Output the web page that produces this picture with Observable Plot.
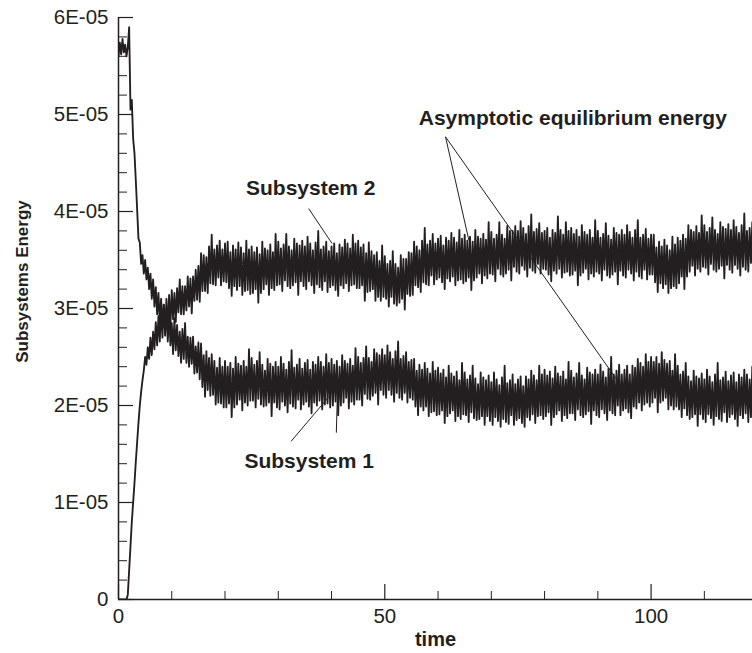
<!DOCTYPE html>
<html>
<head>
<meta charset="utf-8">
<script src="https://cdn.jsdelivr.net/npm/d3@7"></script>
<script src="https://cdn.jsdelivr.net/npm/@observablehq/plot@0.6"></script>
<style>
  body { margin: 0; background: #fff; }
  svg { display: block; }
</style>
</head>
<body>
<div id="chart"></div>
<script>
// Subsystem energies in units of 1E-05, one sample every 0.25 time units from t = 0
// (each row holds 5 time units).
const sampleStep = 0.25;

const subsystem1 = [
  5.6, 5.74, 5.62, 5.78, 5.64, 5.72, 5.6, 5.7, 5.9, 5.05, 5.15, 4.75, 4.6, 4.32, 4.02, 3.72, 3.68, 3.46, 3.55, 3.36,
  3.5, 3.3, 3.42, 3.2, 3.36, 3.1, 3.3, 3.02, 3.22, 2.94, 3.16, 2.86, 3.1, 2.8, 3.04, 2.72, 3.0, 2.66, 2.96, 2.62,
  2.85, 2.53, 2.9, 2.57, 2.83, 2.51, 2.76, 2.44, 2.79, 2.48, 2.85, 2.44, 2.71, 2.4, 2.7, 2.43, 2.71, 2.33, 2.61, 2.34,
  2.65, 2.27, 2.64, 2.19, 2.52, 2.09, 2.56, 2.16, 2.49, 2.1, 2.53, 2.11, 2.46, 2.01, 2.39, 2.03, 2.49, 2.02, 2.4, 1.98,
  2.46, 1.98, 2.4, 2.02, 2.44, 1.88, 2.38, 1.98, 2.5, 2.01, 2.43, 2.06, 2.41, 1.95, 2.46, 2.03, 2.4, 2.0, 2.58, 2.05,
  2.49, 2.05, 2.42, 1.98, 2.46, 2.07, 2.55, 2.01, 2.42, 1.99, 2.36, 2.0, 2.48, 2.03, 2.43, 1.89, 2.4, 2.03, 2.45, 1.98,
  2.4, 1.96, 2.5, 2.04, 2.43, 2.0, 2.37, 1.93, 2.45, 2.02, 2.57, 1.99, 2.39, 1.97, 2.42, 2.06, 2.48, 1.96, 2.38, 2.01,
  2.44, 2.04, 2.47, 1.99, 2.37, 1.92, 2.45, 2.03, 2.42, 2.0, 2.5, 2.05, 2.45, 1.96, 2.4, 2.01, 2.53, 2.02, 2.44, 1.98,
  2.48, 2.0, 2.42, 2.04, 2.46, 1.9, 2.4, 2.0, 2.52, 2.03, 2.46, 2.08, 2.43, 1.97, 2.48, 2.04, 2.41, 2.01, 2.59, 2.06,
  2.5, 2.06, 2.44, 2.0, 2.49, 2.12, 2.61, 2.07, 2.49, 2.06, 2.45, 2.1, 2.58, 2.13, 2.54, 2.01, 2.52, 2.16, 2.58, 2.11,
  2.52, 2.08, 2.62, 2.16, 2.55, 2.11, 2.48, 2.04, 2.56, 2.13, 2.66, 2.08, 2.48, 2.06, 2.51, 2.13, 2.55, 2.03, 2.45, 2.08,
  2.47, 2.06, 2.48, 1.99, 2.36, 1.9, 2.42, 1.99, 2.37, 1.95, 2.44, 1.99, 2.38, 1.89, 2.33, 1.93, 2.45, 1.94, 2.36, 1.9,
  2.39, 1.91, 2.33, 1.95, 2.37, 1.82, 2.29, 1.89, 2.41, 1.92, 2.33, 1.95, 2.3, 1.84, 2.35, 1.89, 2.26, 1.86, 2.44, 1.91,
  2.34, 1.9, 2.27, 1.83, 2.31, 1.93, 2.41, 1.87, 2.28, 1.85, 2.22, 1.86, 2.34, 1.89, 2.29, 1.8, 2.26, 1.89, 2.31, 1.84,
  2.24, 1.8, 2.34, 1.88, 2.27, 1.84, 2.21, 1.78, 2.29, 1.86, 2.41, 1.83, 2.23, 1.81, 2.26, 1.9, 2.32, 1.8, 2.22, 1.85,
  2.27, 1.87, 2.3, 1.82, 2.2, 1.78, 2.3, 1.88, 2.27, 1.85, 2.36, 1.91, 2.31, 1.82, 2.26, 1.89, 2.41, 1.9, 2.32, 1.86,
  2.37, 1.89, 2.31, 1.93, 2.35, 1.8, 2.28, 1.88, 2.4, 1.91, 2.33, 1.95, 2.3, 1.84, 2.35, 1.9, 2.27, 1.87, 2.45, 1.92,
  2.36, 1.92, 2.29, 1.85, 2.33, 1.96, 2.44, 1.9, 2.31, 1.88, 2.27, 1.91, 2.39, 1.94, 2.34, 1.81, 2.32, 1.95, 2.37, 1.9,
  2.32, 1.88, 2.42, 1.96, 2.35, 1.92, 2.29, 1.85, 2.38, 1.95, 2.5, 1.92, 2.32, 1.9, 2.36, 2.0, 2.42, 1.9, 2.32, 1.95,
  2.37, 1.97, 2.41, 1.93, 2.32, 1.87, 2.41, 1.99, 2.39, 1.97, 2.48, 2.03, 2.44, 1.95, 2.4, 2.01, 2.53, 2.03, 2.45, 1.99,
  2.5, 2.03, 2.45, 2.08, 2.5, 1.93, 2.43, 2.03, 2.55, 2.05, 2.47, 2.08, 2.43, 1.96, 2.46, 2.0, 2.36, 1.96, 2.53, 1.99,
  2.41, 1.96, 2.32, 1.88, 2.35, 1.97, 2.44, 1.9, 2.3, 1.86, 2.25, 1.88, 2.36, 1.91, 2.3, 1.79, 2.28, 1.91, 2.33, 1.86,
  2.27, 1.83, 2.37, 1.91, 2.3, 1.87, 2.24, 1.8, 2.32, 1.89, 2.44, 1.86, 2.26, 1.84, 2.29, 1.93, 2.35, 1.83, 2.25, 1.88,
  2.31, 1.91, 2.34, 1.86, 2.24, 1.79, 2.32, 1.9, 2.29, 1.87, 2.37, 1.92, 2.32, 1.83, 2.27, 1.88, 2.4
];

const subsystem2 = [
  0, 0, 0, 0, 0, 0, 0, 0.05, 0.3, 0.55, 0.8, 1.0, 1.2, 1.42, 1.62, 1.82, 2.0, 2.14, 2.26, 2.36,
  2.5, 2.42, 2.6, 2.48, 2.7, 2.52, 2.76, 2.58, 2.86, 2.62, 2.92, 2.66, 3.0, 2.7, 3.04, 2.74, 3.1, 2.78, 3.14, 2.82,
  3.19, 2.89, 3.16, 2.86, 3.21, 2.96, 3.3, 2.94, 3.23, 2.94, 3.23, 2.98, 3.33, 3.02, 3.31, 2.95, 3.33, 3.08, 3.4, 3.09,
  3.44, 3.07, 3.57, 3.18, 3.55, 3.18, 3.53, 3.16, 3.64, 3.26, 3.76, 3.25, 3.61, 3.24, 3.65, 3.32, 3.7, 3.24, 3.61, 3.28,
  3.67, 3.27, 3.69, 3.21, 3.58, 3.13, 3.65, 3.23, 3.61, 3.19, 3.68, 3.23, 3.63, 3.14, 3.57, 3.18, 3.7, 3.19, 3.61, 3.15,
  3.64, 3.16, 3.58, 3.2, 3.63, 3.06, 3.56, 3.16, 3.69, 3.2, 3.62, 3.25, 3.6, 3.14, 3.66, 3.21, 3.58, 3.19, 3.77, 3.24,
  3.69, 3.25, 3.62, 3.18, 3.66, 3.29, 3.77, 3.23, 3.64, 3.21, 3.6, 3.24, 3.72, 3.27, 3.67, 3.14, 3.65, 3.28, 3.7, 3.23,
  3.64, 3.2, 3.74, 3.28, 3.67, 3.24, 3.6, 3.16, 3.68, 3.25, 3.8, 3.22, 3.61, 3.19, 3.64, 3.28, 3.69, 3.17, 3.59, 3.22,
  3.64, 3.24, 3.67, 3.19, 3.57, 3.13, 3.66, 3.24, 3.63, 3.21, 3.71, 3.26, 3.67, 3.18, 3.62, 3.24, 3.76, 3.25, 3.67, 3.21,
  3.7, 3.21, 3.63, 3.24, 3.66, 3.08, 3.57, 3.17, 3.68, 3.18, 3.59, 3.2, 3.55, 3.08, 3.58, 3.12, 3.49, 3.08, 3.65, 3.12,
  3.54, 3.1, 3.46, 3.02, 3.49, 3.12, 3.59, 3.05, 3.46, 3.03, 3.42, 3.06, 3.55, 3.1, 3.51, 2.99, 3.51, 3.15, 3.58, 3.13,
  3.57, 3.14, 3.69, 3.24, 3.64, 3.22, 3.6, 3.17, 3.7, 3.27, 3.83, 3.25, 3.66, 3.24, 3.7, 3.34, 3.77, 3.25, 3.67, 3.3,
  3.72, 3.32, 3.75, 3.27, 3.65, 3.2, 3.73, 3.31, 3.7, 3.28, 3.78, 3.33, 3.73, 3.24, 3.68, 3.29, 3.81, 3.3, 3.72, 3.26,
  3.76, 3.28, 3.7, 3.32, 3.74, 3.19, 3.69, 3.29, 3.81, 3.32, 3.74, 3.36, 3.72, 3.26, 3.77, 3.34, 3.71, 3.31, 3.89, 3.36,
  3.79, 3.35, 3.72, 3.28, 3.76, 3.41, 3.89, 3.35, 3.76, 3.33, 3.72, 3.36, 3.85, 3.4, 3.8, 3.29, 3.8, 3.43, 3.85, 3.38,
  3.8, 3.36, 3.9, 3.44, 3.83, 3.4, 3.77, 3.33, 3.85, 3.42, 3.97, 3.39, 3.79, 3.37, 3.82, 3.46, 3.88, 3.36, 3.78, 3.41,
  3.8, 3.4, 3.83, 3.35, 3.73, 3.28, 3.81, 3.39, 3.78, 3.36, 3.95, 3.41, 3.81, 3.32, 3.76, 3.37, 3.89, 3.38, 3.8, 3.34,
  3.83, 3.35, 3.77, 3.39, 3.81, 3.24, 3.74, 3.34, 3.86, 3.37, 3.79, 3.41, 3.76, 3.3, 3.81, 3.36, 3.73, 3.33, 3.91, 3.38,
  3.8, 3.36, 3.73, 3.29, 3.77, 3.4, 3.88, 3.34, 3.75, 3.32, 3.71, 3.35, 3.83, 3.38, 3.78, 3.25, 3.76, 3.39, 3.81, 3.34,
  3.76, 3.32, 3.86, 3.4, 3.79, 3.36, 3.73, 3.29, 3.81, 3.38, 3.91, 3.33, 3.73, 3.31, 3.76, 3.4, 3.82, 3.3, 3.72, 3.35,
  3.76, 3.35, 3.76, 3.27, 3.63, 3.17, 3.69, 3.26, 3.64, 3.21, 3.71, 3.25, 3.65, 3.16, 3.6, 3.21, 3.74, 3.23, 3.66, 3.21,
  3.73, 3.26, 3.7, 3.33, 3.76, 3.2, 3.72, 3.33, 3.86, 3.38, 3.81, 3.44, 3.79, 3.34, 3.85, 3.41, 3.78, 3.38, 3.96, 3.43,
  3.86, 3.42, 3.79, 3.35, 3.83, 3.46, 3.94, 3.4, 3.81, 3.38, 3.77, 3.41, 3.89, 3.44, 3.84, 3.31, 3.82, 3.45, 3.87, 3.4,
  3.81, 3.37, 3.91, 3.45, 3.84, 3.41, 3.78, 3.34, 3.86, 3.43, 3.98, 3.4, 3.8, 3.38, 3.83, 3.47, 3.89
];

const seriesNames = ["Subsystem 1", "Subsystem 2"];

// Axis ticks (energy in units of 1E-05)
const energyTicks = [0, 1, 2, 3, 4, 5, 6];
const energyTickLabels = ["0", "1E-05", "2E-05", "3E-05", "4E-05", "5E-05", "6E-05"];
const timeTicks = [0, 50, 100];
const timeTickLabels = ["0", "50", "100"];
const timeMinorTicks = [10, 20, 30, 40, 60, 70, 80, 90, 110];

// Callout labels and their leader lines
const calloutText = ["Subsystem 2", "Subsystem 1", "Asymptotic equilibrium energy"];
const calloutTime = [36.1, 35.8, 85.3];
const calloutEnergy = [4.24, 1.43, 4.96];

const leaderFromTime = [35.7, 32.4, 40.9, 61.4, 61.4];
const leaderFromEnergy = [4.03, 1.63, 1.72, 4.77, 4.77];
const leaderToTime = [40.1, 39.5, 41.1, 65.8, 93.9];
const leaderToEnergy = [3.67, 2.09, 2.12, 3.70, 2.24];

// Tidy rows for the library
const rows = [subsystem1, subsystem2].flatMap((values, s) =>
  values.map((e, i) => ({series: seriesNames[s], time: i * sampleStep, energy: e}))
);
const callouts = calloutText.map((text, i) => ({text, time: calloutTime[i], energy: calloutEnergy[i]}));
const leaders = leaderFromTime.map((t, i) => ({
  t1: t, e1: leaderFromEnergy[i], t2: leaderToTime[i], e2: leaderToEnergy[i]
}));
const energyMinorTicks = d3.range(1, 30).map(k => k / 5).filter(v => !Number.isInteger(v));

const ink = "#231f20";
const width = 752, height = 653;
const margin = {top: 17, right: 0, bottom: 54, left: 118};
const frameW = width - margin.left - margin.right;
const frameH = height - margin.top - margin.bottom;

const chart = Plot.plot({
  width, height,
  marginTop: margin.top, marginRight: margin.right,
  marginBottom: margin.bottom, marginLeft: margin.left,
  x: {domain: [0, 119.04]},
  y: {domain: [0, 6]},
  style: {fontFamily: "'Liberation Sans', Arial, Helvetica, sans-serif", fontSize: "20.5px", color: ink, background: "#fff"},
  marks: [
    // energy traces
    Plot.lineY(rows, {x: "time", y: "energy", z: "series", stroke: ink, strokeWidth: 1.85, clip: true}),
    // inward tick marks
    Plot.tickY(energyMinorTicks, {y: d => d, stroke: ink, strokeWidth: 1, insetRight: frameW - 9}),
    Plot.tickY(energyTicks, {y: d => d, stroke: ink, strokeWidth: 1.2, insetRight: frameW - 15}),
    Plot.tickX(timeMinorTicks, {x: d => d, stroke: ink, strokeWidth: 1, insetTop: frameH - 8}),
    Plot.tickX(timeTicks, {x: d => d, stroke: ink, strokeWidth: 1.2, insetTop: frameH - 15}),
    // axis lines
    Plot.ruleX([0], {stroke: ink, strokeWidth: 1.5}),
    Plot.ruleY([0], {stroke: ink, strokeWidth: 1.5}),
    // tick labels
    Plot.axisY(energyTicks, {
      tickSize: 0, tickPadding: 10, label: null, fill: ink,
      tickFormat: d => energyTickLabels[energyTicks.indexOf(d)]
    }),
    Plot.axisX(timeTicks, {
      tickSize: 0, tickPadding: 9, label: null, fill: ink,
      tickFormat: d => timeTickLabels[timeTicks.indexOf(d)]
    }),
    // axis titles
    Plot.text(["time"], {frameAnchor: "bottom", lineAnchor: "bottom", dy: 46, fontWeight: "bold", fontSize: 20, fill: ink}),
    Plot.text(["Subsystems Energy"], {
      frameAnchor: "left", textAnchor: "middle", rotate: -90, dx: -96, dy: -27,
      fontWeight: "bold", fontSize: 17, fill: ink
    }),
    // callouts
    Plot.link(leaders, {x1: "t1", y1: "e1", x2: "t2", y2: "e2", stroke: ink, strokeWidth: 1}),
    Plot.text(callouts, {x: "time", y: "energy", text: "text", fontWeight: "bold", fontSize: 21, fill: ink})
  ]
});

document.getElementById("chart").appendChild(chart);
</script>
</body>
</html>
